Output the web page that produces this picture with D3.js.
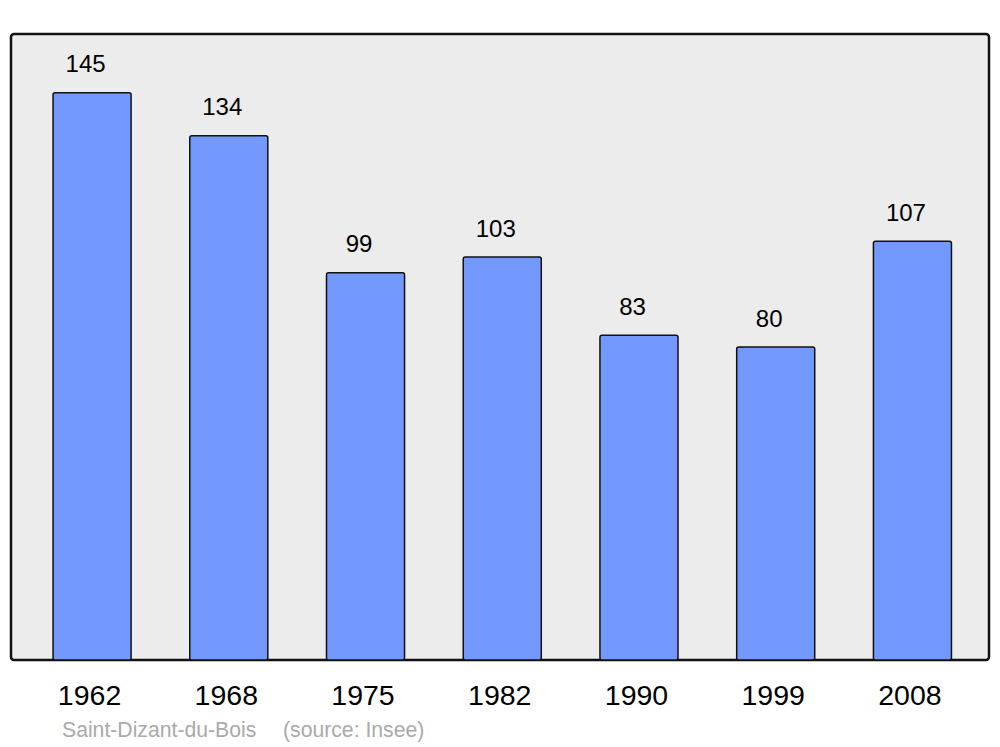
<!DOCTYPE html>
<html><head><meta charset="utf-8">
<script src="https://cdn.jsdelivr.net/npm/d3@7"></script>
<style>html,body{margin:0;padding:0;background:#fff;}svg{display:block;}</style>
</head><body>
<svg id="c" width="1000" height="747"></svg>
<script>
const years = ["1962","1968","1975","1982","1990","1999","2008"];
const population = [145,134,99,103,83,80,107];
const commune = "Saint-Dizant-du-Bois";
const sourceNote = "(source: Insee)";

const svg = d3.select("#c");
const frame = {x0: 11, x1: 989, y0: 34, y1: 660};

svg.append("rect")
  .attr("x", frame.x0).attr("y", frame.y0)
  .attr("width", frame.x1 - frame.x0).attr("height", frame.y1 - frame.y0)
  .attr("rx", 3).attr("fill", "#ececec")
  .attr("stroke", "#111").attr("stroke-width", 2.5);

const x = d3.scaleBand().domain(years).range([25.7, 978.8])
  .paddingInner(0.4293).paddingOuter(0.2);
const y = d3.scaleLinear().domain([0, 160]).range([frame.y1, frame.y0]);

const data = years.map((yr, i) => ({yr, v: population[i]}));

svg.selectAll("rect.bar").data(data).enter().append("rect")
  .attr("class", "bar")
  .attr("x", d => x(d.yr)).attr("y", d => y(d.v))
  .attr("width", x.bandwidth()).attr("height", d => y(0) - y(d.v))
  .attr("rx", 2)
  .attr("fill", "#7399ff").attr("stroke", "#111").attr("stroke-width", 1.5);

svg.selectAll("text.val").data(data).enter().append("text")
  .attr("class", "val")
  .attr("x", d => x(d.yr) + x.bandwidth() / 2 - 6.5)
  .attr("y", d => y(d.v) - 20.5)
  .attr("text-anchor", "middle")
  .attr("font-family", "Liberation Sans, Arial, sans-serif")
  .attr("font-size", 24).attr("fill", "#000")
  .text(d => d.v);

const xAxis = d3.axisBottom(x).tickSize(0).tickPadding(0);
const ax = svg.append("g").attr("transform", `translate(-2.5,${frame.y1})`).call(xAxis);
ax.select(".domain").remove();
ax.selectAll("text")
  .attr("y", 45).attr("dy", null)
  .attr("font-family", "Liberation Sans, Arial, sans-serif")
  .attr("font-size", 28.5).attr("fill", "#000");

svg.append("text").attr("x", 62).attr("y", 737)
  .attr("font-family", "Liberation Sans, Arial, sans-serif")
  .attr("font-size", 21.2).attr("fill", "#aaaaaa").text(commune);
svg.append("text").attr("x", 283).attr("y", 737)
  .attr("font-family", "Liberation Sans, Arial, sans-serif")
  .attr("font-size", 21.2).attr("fill", "#aaaaaa").text(sourceNote);
</script>
</body></html>
